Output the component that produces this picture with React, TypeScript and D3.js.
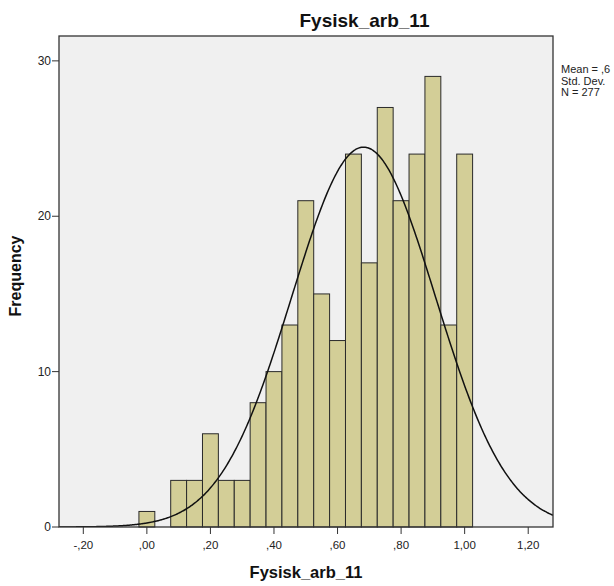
import React from "react";
import * as d3 from "d3";

const binCenters = [0.0, 0.05, 0.1, 0.15, 0.2, 0.25, 0.3, 0.35, 0.4, 0.45, 0.5, 0.55, 0.6, 0.65, 0.7, 0.75, 0.8, 0.85, 0.9, 0.95, 1.0];
const counts = [1, 0, 3, 3, 6, 3, 3, 8, 10, 13, 21, 15, 12, 24, 17, 27, 21, 24, 29, 13, 24];
const xTicks = [-0.2, 0, 0.2, 0.4, 0.6, 0.8, 1.0, 1.2];
const yTicks = [0, 10, 20, 30];
const legendLines = ["Mean = ,6", "Std. Dev.", "N = 277"];
const binWidth = 0.05;
const meanVal = 0.682;
const sdVal = 0.226;
const nVal = 277;
const title = "Fysisk_arb_11";
const xLabel = "Fysisk_arb_11";
const yLabel = "Frequency";

const W = 614;
const H = 586;
const left = 59;
const right = 553;
const top = 36;
const bottom = 527;

const fmt = (v: number) => {
  const neg = v < -1e-9;
  const a = Math.abs(v).toFixed(2).replace(".", ",");
  const s = a.startsWith("0,") ? a.slice(1) : a;
  return (neg ? "-" : "") + s;
};

export default function App() {
  const x = d3.scaleLinear().domain([-0.2765, 1.278]).range([left, right]);
  const y = d3.scaleLinear().domain([0, 31.6]).range([bottom, top]);

  const peak = (nVal * binWidth) / (sdVal * Math.sqrt(2 * Math.PI));
  const pts = d3.range(0, 401).map((i) => {
    const v = -0.2765 + (i / 400) * (1.278 + 0.2765);
    const f = peak * Math.exp(-0.5 * Math.pow((v - meanVal) / sdVal, 2));
    return [v, f] as [number, number];
  });
  const line = d3
    .line<[number, number]>()
    .x((d) => x(d[0]))
    .y((d) => y(d[1]))
    .curve(d3.curveBasis);

  const font = "'Liberation Sans', Arial, sans-serif";

  return (
    <svg
      width={W}
      height={H}
      style={{ position: "absolute", left: 0, top: 0, background: "#fff" }}
      fontFamily={font}
    >
      <defs>
        <clipPath id="plotClip">
          <rect x={left} y={top} width={right - left} height={bottom - top} />
        </clipPath>
      </defs>
      <rect x={left} y={top} width={right - left} height={bottom - top} fill="#f0f0f0" />
      {binCenters.map((c, i) =>
        counts[i] > 0 ? (
          <rect
            key={i}
            x={x(c - binWidth / 2)}
            y={y(counts[i])}
            width={x(c + binWidth / 2) - x(c - binWidth / 2)}
            height={y(0) - y(counts[i])}
            fill="#d3ce97"
            stroke="#2a2a2a"
            strokeWidth={1}
          />
        ) : null
      )}
      <path d={line(pts) || ""} fill="none" stroke="#111" strokeWidth={1.5} clipPath="url(#plotClip)" />
      <rect x={left} y={top} width={right - left} height={bottom - top} fill="none" stroke="#333" strokeWidth={1.3} />
      {yTicks.map((t) => (
        <g key={t}>
          <line x1={left - 7} x2={left} y1={y(t)} y2={y(t)} stroke="#333" strokeWidth={1} />
          <text x={left - 8} y={y(t)} dy="0.35em" textAnchor="end" fontSize={12} fill="#222">
            {t}
          </text>
        </g>
      ))}
      {xTicks.map((t) => (
        <g key={t}>
          <line x1={x(t)} x2={x(t)} y1={bottom} y2={bottom + 7} stroke="#333" strokeWidth={1} />
          <text x={x(t)} y={549} textAnchor="middle" fontSize={11.5} fill="#222">
            {fmt(t)}
          </text>
        </g>
      ))}
      <text x={364.5} y={27} textAnchor="middle" fontSize={19} fontWeight="bold" fill="#111">
        {title}
      </text>
      <text x={(left + right) / 2} y={578} textAnchor="middle" fontSize={16.5} fontWeight="bold" fill="#111">
        {xLabel}
      </text>
      <text
        transform={`translate(21, 276) rotate(-90)`}
        textAnchor="middle"
        fontSize={16}
        fontWeight="bold"
        fill="#111"
      >
        {yLabel}
      </text>
      {legendLines.map((s, i) => (
        <text key={i} x={561} y={73 + i * 11.5} fontSize={11} fill="#222">
          {s}
        </text>
      ))}
    </svg>
  );
}
